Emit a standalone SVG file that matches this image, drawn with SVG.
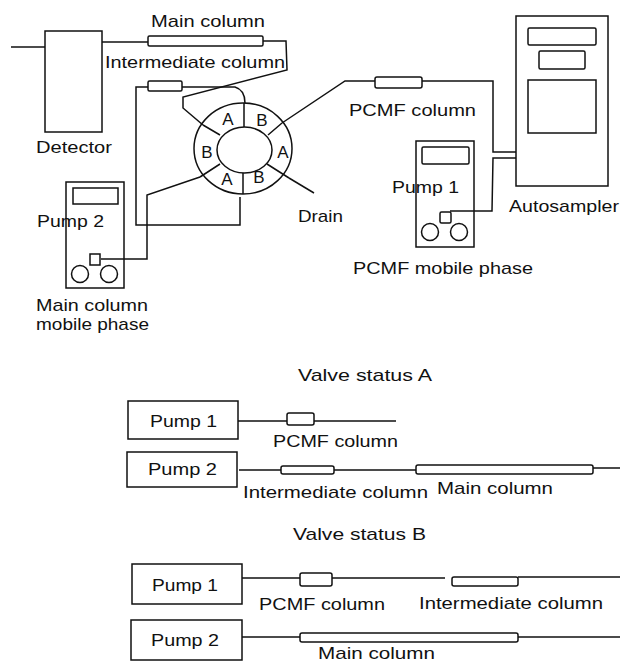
<svg xmlns="http://www.w3.org/2000/svg" width="620" height="664" viewBox="0 0 620 664">
<style>
rect,circle,ellipse,path{fill:none;stroke:#111;stroke-width:1.5}
rect.f{fill:#fff}
text{font-family:"Liberation Sans",Arial,sans-serif;font-size:17px;fill:#111;stroke:none}
text.v{text-anchor:middle}
</style>
<rect width="620" height="664" style="fill:#fff;stroke:none"/>
<g id="connectors">
<path d="M11 47H45"/>
<path d="M102 42H148"/>
<path d="M263 41H286L287 70L183 97V108L203 125"/>
<path d="M182 87H235Q245 90 245 103"/>
<path d="M148 87H136V225H240V197"/>
<path d="M282 123L345 81H375"/>
<path d="M422 81H493V152H516"/>
<path d="M516 158H493L492 211H450"/>
<path d="M200 177L147 195V259H101"/>
<path d="M289 178L314 193"/>
<path d="M238 421H287M314 421H396"/>
<path d="M239 470H281M334 470H416M593 468H620"/>
<path d="M242 578H300M332 578H445M518 577H620"/>
<path d="M242 637H300M518 637H620"/>
</g>
<g id="detector"><rect x="45" y="31" width="57" height="101"/><text x="36" y="153" textLength="76" lengthAdjust="spacingAndGlyphs">Detector</text></g>
<g id="main-column"><rect class="f" x="148" y="36" width="115" height="10" rx="1.5"/><text x="151" y="27" textLength="114" lengthAdjust="spacingAndGlyphs">Main column</text></g>
<g id="intermediate-column"><rect class="f" x="148" y="81" width="34" height="10" rx="1.5"/><text x="105" y="68" textLength="180" lengthAdjust="spacingAndGlyphs">Intermediate column</text></g>
<g id="valve">
<ellipse cx="243" cy="148.500" rx="49" ry="45.500"/>
<ellipse cx="244.500" cy="150" rx="27.500" ry="23"/>
<path d="M244 103V127M243 173V194M203 125L220 135M282 123L268 135M220 164L200 177M267 164L289 178"/>
<text class="v" x="228" y="125">A</text><text class="v" x="262" y="126">B</text><text class="v" x="207" y="158">B</text><text class="v" x="283" y="158">A</text><text class="v" x="227" y="185">A</text><text class="v" x="259" y="183">B</text>
</g>
<g id="drain"><text x="298" y="222" textLength="45" lengthAdjust="spacingAndGlyphs">Drain</text></g>
<g id="pcmf-column"><rect class="f" x="375" y="77" width="47" height="11" rx="2"/><text x="349" y="116" textLength="127" lengthAdjust="spacingAndGlyphs">PCMF column</text></g>
<g id="autosampler"><rect x="516" y="16" width="92" height="170"/><rect x="528" y="28" width="68" height="17" rx="1.500"/><rect x="539" y="51" width="46" height="18" rx="1.500"/><rect x="528" y="80" width="68" height="53"/><text x="509" y="212" textLength="110" lengthAdjust="spacingAndGlyphs">Autosampler</text></g>
<g id="pump-1"><rect x="416" y="141" width="58" height="106"/><rect x="422" y="147" width="47" height="17" rx="1.500"/><rect class="f" x="440" y="212" width="11" height="11" rx="1.500"/><circle cx="430" cy="232" r="8.500"/><circle cx="459" cy="232" r="8.500"/><text x="392" y="193" textLength="67" lengthAdjust="spacingAndGlyphs">Pump 1</text><text x="353" y="274" textLength="180" lengthAdjust="spacingAndGlyphs">PCMF mobile phase</text></g>
<g id="pump-2"><rect x="66" y="182" width="58" height="106"/><rect x="73" y="188" width="45" height="16"/><rect class="f" x="90" y="254" width="10" height="11"/><circle cx="80" cy="274" r="8.500"/><circle cx="109" cy="274" r="8.500"/><text x="37" y="227" textLength="67" lengthAdjust="spacingAndGlyphs">Pump 2</text><text x="36" y="311" textLength="112" lengthAdjust="spacingAndGlyphs">Main column</text><text x="36" y="330" textLength="113" lengthAdjust="spacingAndGlyphs">mobile phase</text></g>
<g id="status-a">
<text x="298" y="381" textLength="134" lengthAdjust="spacingAndGlyphs">Valve status A</text>
<g id="a-pump-1"><rect x="128" y="401" width="110" height="38"/><text x="150" y="427" textLength="67" lengthAdjust="spacingAndGlyphs">Pump 1</text></g>
<g id="a-pcmf"><rect class="f" x="287" y="413" width="27" height="12" rx="2"/><text x="273" y="447" textLength="125" lengthAdjust="spacingAndGlyphs">PCMF column</text></g>
<g id="a-pump-2"><rect x="127" y="452" width="110" height="35"/><text x="148" y="475" textLength="69" lengthAdjust="spacingAndGlyphs">Pump 2</text></g>
<g id="a-intermediate"><rect class="f" x="281" y="466" width="53" height="8" rx="2"/><text x="243" y="498" textLength="185" lengthAdjust="spacingAndGlyphs">Intermediate column</text></g>
<g id="a-main"><rect class="f" x="416" y="465" width="177" height="9" rx="2"/><text x="437" y="494" textLength="116" lengthAdjust="spacingAndGlyphs">Main column</text></g>
</g>
<g id="status-b">
<text x="293" y="540" textLength="133" lengthAdjust="spacingAndGlyphs">Valve status B</text>
<g id="b-pump-1"><rect x="132" y="564" width="110" height="40"/><text x="152" y="591" textLength="66" lengthAdjust="spacingAndGlyphs">Pump 1</text></g>
<g id="b-pcmf"><rect class="f" x="300" y="573" width="32" height="13" rx="2"/><text x="259" y="610" textLength="126" lengthAdjust="spacingAndGlyphs">PCMF column</text></g>
<g id="b-intermediate"><rect class="f" x="452" y="577" width="66" height="9" rx="2"/><text x="419" y="609" textLength="184" lengthAdjust="spacingAndGlyphs">Intermediate column</text></g>
<g id="b-pump-2"><rect x="131" y="620" width="111" height="40"/><text x="151" y="646" textLength="68" lengthAdjust="spacingAndGlyphs">Pump 2</text></g>
<g id="b-main"><rect class="f" x="300" y="633" width="218" height="9" rx="2"/><text x="318" y="659" textLength="117" lengthAdjust="spacingAndGlyphs">Main column</text></g>
</g>
</svg>
